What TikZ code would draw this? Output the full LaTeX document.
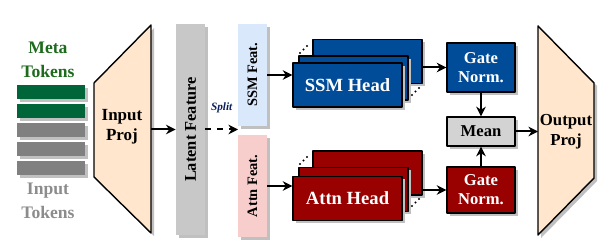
\documentclass[tikz,border=0pt]{standalone}
\usepackage{fontspec}
\setmainfont{Liberation Serif}
\usetikzlibrary{arrows.meta,shadows}
\definecolor{MetaGreen}{HTML}{00663A}
\definecolor{MetaText}{HTML}{1E6B1E}
\definecolor{TokenGray}{HTML}{808080}
\definecolor{LabelGray}{HTML}{8C8C8C}
\definecolor{ShadowGray}{HTML}{C0C0C0}
\definecolor{ProjPeach}{HTML}{FFE6CC}
\definecolor{LatentGray}{HTML}{C8C8C8}
\definecolor{SSMFeatBlue}{HTML}{DAE8FC}
\definecolor{AttnFeatRed}{HTML}{F8CECC}
\definecolor{SSMBlue}{HTML}{004C99}
\definecolor{AttnRed}{HTML}{990000}
\definecolor{MeanGray}{HTML}{D3D3D3}
\definecolor{SplitBlue}{HTML}{0A1E5A}

\begin{document}
\begin{tikzpicture}[
  x=0.5pt,y=-0.5pt,
  line join=round,
  >={Stealth[length=4.8pt,width=4.8pt]},
  flow/.style={->,line width=1pt},
  box shadow/.style={drop shadow={shadow xshift=1.5pt,shadow yshift=-1.5pt,
    fill=ShadowGray,opacity=1}},
  token bar/.style={box shadow,minimum width=34pt,minimum height=7pt,inner sep=0pt},
  feat box/.style={box shadow,minimum width=14.5pt,minimum height=51pt,inner sep=0pt,
    font=\fontsize{7.2}{8.5}\selectfont\bfseries},
  head box/.style={box shadow,draw=black,line width=0.7pt,minimum width=54.5pt,
    minimum height=22pt,inner sep=0pt,text=white,font=\fontsize{9.3}{11}\selectfont\bfseries},
  norm box/.style={box shadow,draw=black,line width=0.7pt,minimum width=34pt,inner sep=0pt,
    align=center,font=\fontsize{8.3}{9.5}\selectfont\bfseries},
  proj shape/.style={box shadow,fill=ProjPeach,draw=black,line width=0.7pt},
  label text/.style={align=center,font=\fontsize{8.8}{12}\selectfont\bfseries},
  dot/.style={fill=black}
]
\useasboundingbox (0,0) rectangle (613,244);

% Token stack: two meta tokens above three input tokens.
\foreach \i/\col in {0/MetaGreen,1/MetaGreen,2/TokenGray,3/TokenGray,4/TokenGray} {
  \node[token bar,fill=\col] (tok\i) at (51,{92+19*\i}) {};
}
\node[label text,text=MetaText] (metalbl) at (48,60) {Meta\\Tokens};
\node[label text,text=LabelGray] (inlbl) at (48,201) {Input\\Tokens};

% Input projection.
\draw[proj shape] (94,83) -- (151,25) -- (151,233) -- (94,177) -- cycle;
\node[label text,font=\fontsize{8.5}{10}\selectfont\bfseries] (inproj) at (122,127) {Input\\Proj};
\coordinate (inprojR) at (151,129.5);

% Latent feature and its split.
\node[feat box,fill=LatentGray,minimum height=105.5pt,font=\fontsize{8.2}{10}\selectfont\bfseries]
  (latent) at (190.5,129.5) {\rotatebox{90}{Latent Feature}};
\coordinate (splitend) at (238,129.5);

\node[feat box,fill=SSMFeatBlue] (ssmfeat) at (252.5,75) {\rotatebox{90}{SSM Feat.}};
\node[feat box,fill=AttnFeatRed] (attnfeat) at (252.5,186) {\rotatebox{90}{Attn Feat.}};

% Stacked heads (back to front).
\node[head box,fill=SSMBlue] (ssmback) at (367.5,61.5) {};
\node[head box,fill=SSMBlue] (ssmmid) at (353.5,78) {};
\node[head box,fill=SSMBlue] (ssmfront) at (347.5,85) {SSM Head};

\node[head box,fill=AttnRed] (attnback) at (367.5,173) {};
\node[head box,fill=AttnRed] (attnmid) at (353.5,189.5) {};
\node[head box,fill=AttnRed] (attnfront) at (347.5,198.5) {Attn Head};

% More heads hinted by dots.
\foreach \sx/\sy in {300/53,412/95,300/164,412/206} {
  \foreach \d in {0,1,2} {
    \fill[dot] ({\sx+3.5*\d},{\sy-3.5*\d}) circle (0.6pt);
  }
}

% Gated norms and the mean.
\node[norm box,fill=SSMBlue,text=white,minimum height=24.5pt] (ssmgate) at (481,67.5) {Gate\\Norm.};
\node[norm box,fill=MeanGray,minimum height=14.5pt] (mean) at (481,131.5) {Mean};
\node[norm box,fill=AttnRed,text=white,minimum height=23pt] (attngate) at (481,190) {Gate\\Norm.};

% Output projection.
\draw[proj shape] (538,26) -- (594,83) -- (594,178) -- (538,235) -- cycle;
\node[label text,font=\fontsize{8.4}{10}\selectfont\bfseries] (outproj) at (566,132) {Output\\Proj};
\coordinate (outprojL) at (538,131.5);

% Connectors.
\draw[flow] (inprojR) -- (latent.west |- inprojR);
\draw[flow,dash pattern=on 3pt off 3pt] (latent.east |- splitend) -- (splitend)
  node[midway,above=4.5pt,font=\fontsize{5.6}{6}\selectfont\bfseries\itshape,text=SplitBlue] {Split};
\draw[flow] (ssmfeat.east) -- (ssmfeat.east -| ssmfront.west);
\draw[flow] (attnfeat.east) -- (attnfeat.east -| attnfront.west);
\draw[flow] (ssmgate.west -| ssmback.east) -- (ssmgate.west);
\draw[flow] (attngate.west -| attnback.east) -- (attngate.west);
\draw[flow] (ssmgate.south) -- (mean.north);
\draw[flow] (attngate.north) -- (mean.south);
\draw[flow] (mean.east) -- (outprojL);

\end{tikzpicture}
\end{document}
